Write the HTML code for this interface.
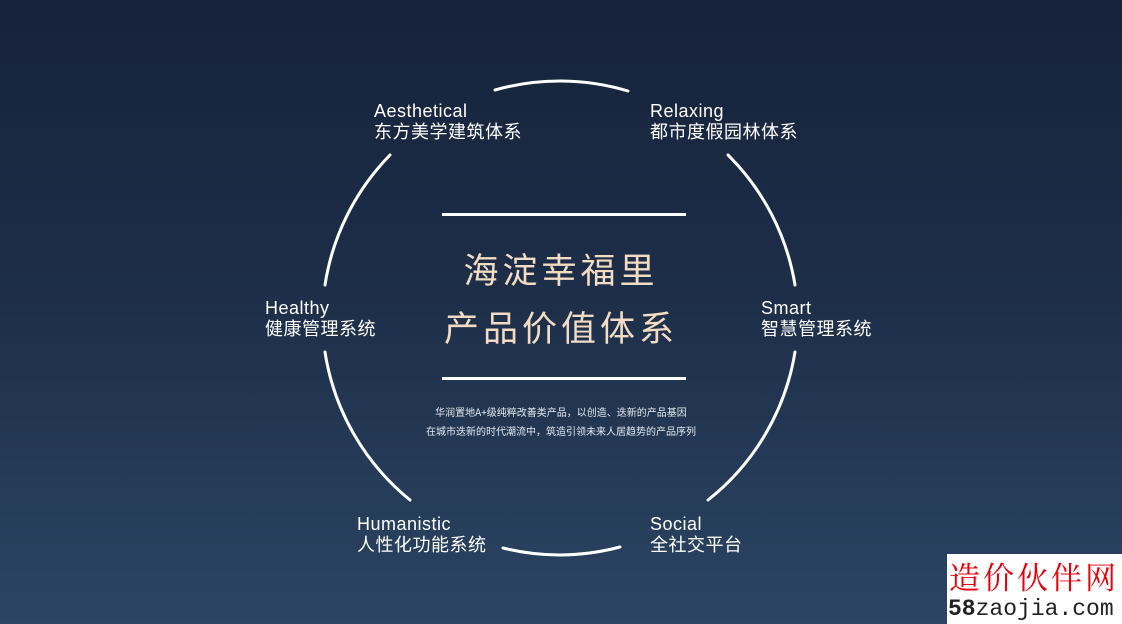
<!DOCTYPE html>
<html><head><meta charset="utf-8"><style>
html,body{margin:0;padding:0}
body{width:1122px;height:624px;overflow:hidden;position:relative;
background:linear-gradient(180deg,#16223a 0%,#1e2f4a 50%,#2b4563 100%);
font-family:"Liberation Sans","Noto Sans CJK SC",sans-serif;color:#fff}
.l{position:absolute;font-size:18px;line-height:21px;letter-spacing:0.5px}
.t{position:absolute;left:0;width:1122px;text-align:center;color:#f3dcc2;font-size:35px;letter-spacing:4px;font-family:"Noto Sans CJK SC",sans-serif}
.s{position:absolute;left:0;width:1122px;text-align:center;font-size:10px;color:#e6e9ee;font-family:"Noto Sans CJK SC",sans-serif}
.hr{position:absolute;left:442px;width:244px;height:3px;background:#fff}
</style></head><body>
<svg width="1122" height="624" style="position:absolute;left:0;top:0">
<g fill="none" stroke="#fff" stroke-width="3" stroke-linecap="round">
<path d="M495 90 A237 237 0 0 1 628 91"/>
<path d="M728 155 A237 237 0 0 1 795 285"/>
<path d="M795 352 A237 237 0 0 1 708 500"/>
<path d="M620 547 A237 237 0 0 1 503 548"/>
<path d="M410 500 A237 237 0 0 1 325 352"/>
<path d="M325 285 A237 237 0 0 1 390 155"/>
</g></svg>
<div class="l" style="left:374px;top:101px">Aesthetical<br>东方美学建筑体系</div>
<div class="l" style="left:650px;top:101px">Relaxing<br>都市度假园林体系</div>
<div class="l" style="left:265px;top:298px">Healthy<br>健康管理系统</div>
<div class="l" style="left:761px;top:298px">Smart<br>智慧管理系统</div>
<div class="l" style="left:357px;top:514px">Humanistic<br>人性化功能系统</div>
<div class="l" style="left:650px;top:514px">Social<br>全社交平台</div>
<div class="hr" style="top:213px"></div>
<div class="hr" style="top:377px"></div>
<div class="t" style="top:243px">海淀幸福里</div>
<div class="t" style="top:301px">产品价值体系</div>
<div class="s" style="top:404px">华润置地A+级纯粹改善类产品，以创造、迭新的产品基因</div>
<div class="s" style="top:423px">在城市迭新的时代潮流中，筑造引领未来人居趋势的产品序列</div>
<div style="position:absolute;left:947px;top:554px;width:175px;height:70px;background:#fff">
<div style="position:absolute;left:2px;top:5px;font-size:31px;line-height:34px;color:#e8000b;font-family:'Noto Serif CJK SC',serif;letter-spacing:3px;white-space:nowrap">造价伙伴网</div>
<div style="position:absolute;left:1px;top:43px;font-size:23px;line-height:25px;color:#222;font-family:'Liberation Mono',monospace;white-space:nowrap"><b>58</b>zaojia.com</div>
</div>
</body></html>
